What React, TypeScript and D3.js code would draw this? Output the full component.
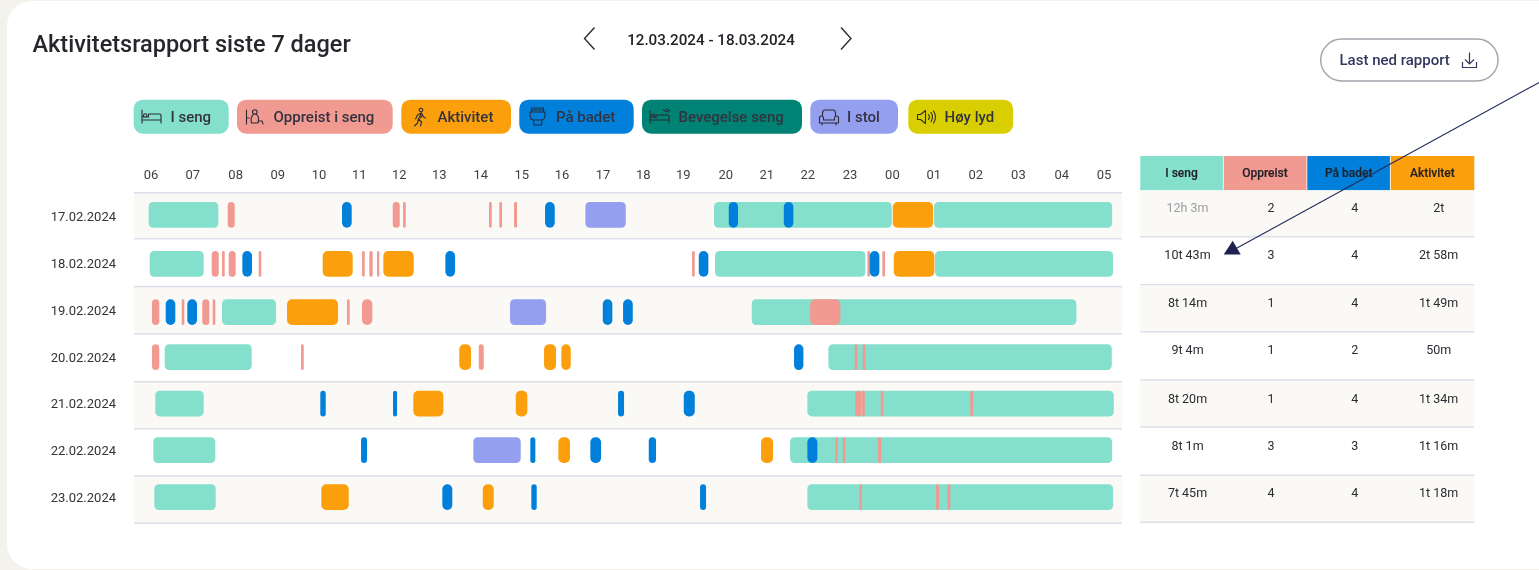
import React from "react";
import * as d3 from "d3";

// ---- data (hours since 06:00) ----
const hourLabels = ["06","07","08","09","10","11","12","13","14","15","16","17","18","19","20","21","22","23","00","01","02","03","04","05"];
const days = ["17.02.2024","18.02.2024","19.02.2024","20.02.2024","21.02.2024","22.02.2024","23.02.2024"];

type Seg = [string, number, number];
const T = "seng", P = "oppreist", O = "aktivitet", B = "bad", S = "stol";

const day17: Seg[] = [[T,-0.056,1.624],[P,1.851,2.02],[B,4.61,4.844],[P,5.834,6.003],[P,6.083,6.148],[P,8.158,8.223],[P,8.407,8.472],[P,8.762,8.834],[B,9.51,9.744],[S,10.483,11.458],[T,13.589,17.878],[B,13.944,14.168],[B,15.272,15.503],[O,17.902,18.875],[T,18.899,23.196]];
const day18: Seg[] = [[T,-0.031,1.272],[P,1.465,1.634],[P,1.714,1.779],[P,1.875,2.044],[B,2.204,2.438],[P,2.6,2.662],[O,4.144,4.868],[P,5.093,5.158],[P,5.269,5.351],[P,5.455,5.51],[O,5.607,6.341],[B,7.104,7.338],[P,13.058,13.123],[B,13.22,13.452],[T,13.613,17.241],[P,17.289,17.354],[B,17.347,17.579],[P,17.651,17.716],[O,17.927,18.906],[T,18.923,23.22]];
const day19: Seg[] = [[P,0.024,0.2],[B,0.355,0.587],[P,0.741,0.804],[B,0.876,1.11],[P,1.238,1.407],[P,1.489,1.552],[T,1.714,3.017],[O,3.283,4.514],[P,4.731,4.796],[P,5.093,5.342],[S,8.665,9.534],[B,10.903,11.134],[B,11.393,11.627],[T,14.499,22.334],[P,15.906,16.638]];
const day20: Seg[] = [[P,0.024,0.2],[T,0.331,2.431],[P,3.621,3.686],[O,7.441,7.724],[P,7.91,8.03],[O,9.486,9.775],[O,9.903,10.13],[B,15.52,15.745],[T,16.348,23.188],[P,16.985,17.048],[P,17.178,17.241]];
const day21: Seg[] = [[T,0.104,1.272],[B,4.086,4.217],[B,5.841,5.938],[O,6.331,7.055],[O,8.803,9.083],[B,11.272,11.417],[B,12.858,13.123],[T,15.841,23.237],[P,16.993,17.137],[P,17.161,17.227],[P,17.613,17.669],[P,19.775,19.84]];
const day22: Seg[] = [[T,0.056,1.552],[B,5.069,5.214],[S,7.779,8.923],[B,9.155,9.276],[O,9.831,10.113],[B,10.603,10.862],[B,12.013,12.189],[O,14.724,15.013],[T,15.424,23.196],[P,16.517,16.575],[P,16.696,16.758],[P,17.548,17.62],[B,15.841,16.082]];
const day23: Seg[] = [[T,0.08,1.562],[O,4.111,4.772],[B,7.031,7.272],[O,8.006,8.272],[B,9.179,9.309],[B,13.251,13.396],[T,15.841,23.22],[P,17.096,17.154],[P,18.947,19.02],[P,19.22,19.292]];
const schedule = [day17, day18, day19, day20, day21, day22, day23];

const tableHeaders = ["I seng","Oppreist","På badet","Aktivitet"];
const sengTotals = ["12h 3m","10t 43m","8t 14m","9t 4m","8t 20m","8t 1m","7t 45m"];
const oppreistTotals = ["2","3","1","1","1","3","4"];
const badetTotals = ["4","4","4","2","4","3","4"];
const aktivitetTotals = ["2t","2t 58m","1t 49m","50m","1t 34m","1t 16m","1t 18m"];

const legendLabels = ["I seng","Oppreist i seng","Aktivitet","På badet","Bevegelse seng","I stol","Høy lyd"];

// ---- styling & layout ----
const colors: Record<string,string> = { seng:"#84dfcc", oppreist:"#f19a91", aktivitet:"#fb9f0d", bad:"#0080db", bevegelse:"#008375", stol:"#949fef", lyd:"#d9cf00" };
const legendKeys = ["seng","oppreist","aktivitet","bad","bevegelse","stol","lyd"];
const legendBox: [number,number,number,number][] = [[133.7,228.7,170.5,151.5],[237,392.7,273.5,255],[401.3,511,437.5,419.5],[519.3,633.7,556,537.5],[642,802,678.5,660],[810.3,898,847,829],[908.3,1013,944.5,926.5]];

const FONT = "Roboto, sans-serif";
const x = d3.scaleLinear().domain([0, 23]).range([151, 1104]);
const tickNudge = [0,.3,1.8,2.4,2.3,1.1,-.3,-1.7,-1.7,-2.2,-3.3,-3.7,-4.9,-6.3,-5.3,-5.8,-6.2,-5.3,-4.4,-4.5,-3.9,-2.7,-.8,.1];
const rowLines = [192.8,238.7,286.5,333.7,381.7,428.7,476,523.3];
const barTops = [202,251,299.3,344.3,390.7,437.3,484.3];
const dateCenters = [216.7,263.7,310.7,357.7,403.7,450.7,497.3];
const BAR_H = 25.7;
const tableLines = [190.3,236.7,284.6,331.7,380,427,475.3,522.3];
const tableText = [207,254,302,349.3,398.3,445,492.7];
const tableCols = [1140.3,1223.7,1307.3,1390.7,1474.3];
const cellCenters = [1187.5,1271,1354.7,1438.7];
const headCenters = [1181.5,1265,1348.7,1432.3];
const rule = "#dcdfea";
const band = "#faf9f6";

function Icon({ kind, cx }: { kind: number; cx: number }) {
  const c = "#2b2b36";
  const common = { fill: "none", stroke: c, strokeWidth: 1.1, strokeLinecap: "round" as const, strokeLinejoin: "round" as const };
  const paths = [
    "M-9.5 -7V6 M-9.5 3H9.5V6 M9.5 3V-2Q9.5 -3 8 -3H-3V0 M-9.5 0H-3 M-8 -1.5a1.7 1.7 0 1 0 3.4 0a1.7 1.7 0 1 0 -3.4 0",
    "M-8.5 -7V7 M-6 1H-8.5 M-2.5 -5a2.3 2.3 0 1 0 4.6 0a2.3 2.3 0 1 0 -4.6 0 M-3.5 6C-5 0 -2 -3 0 -3C2.5 -3 4.5 0 3 6Z M3 4H7L8 7",
    "M0 -8a1.8 1.8 0 1 0 3 2a1.8 1.8 0 1 0 -3 -2 M-2 -2L2 -4L4 0L6 1 M-2 -2L-4 2 M2 -4L-1 2L2 5L1 9 M-1 2L-2 6L-5 9 M3 -2L1 1",
    "M-6 -9H6V-5H-6Z M-7.5 -5H7.5V-2Q7.5 3 3.5 3H-3.5Q-7.5 3 -7.5 -2Z M-4 3L-3.5 8H4L4.5 3 M-5 -7H5",
    "M-10 -6V6 M-10 3H9V6 M9 3V-1Q9 -2 7.5 -2H-4V1 M-10 0H-4 M-8.5 -1.5a1.5 1.5 0 1 0 3 0a1.5 1.5 0 1 0 -3 0 M3 -7L8 -5 M6 -8L10 -6",
    "M-6.5 -1V-4Q-6.5 -7 -3.5 -7H3.5Q6.5 -7 6.5 -4V-1 M-9.5 1a2 2 0 0 1 4 0V3H5.5V1a2 2 0 0 1 4 0V6H-9.5Z M-7 6V8 M7 6V8",
    "M-9 -2.5H-6L-1 -6.5V6.5L-6 2.5H-9Z M2 -2.5Q4 0 2 2.5 M4.5 -4.5Q7.5 0 4.5 4.5 M7 -6Q11 0 7 6",
  ];
  return <path d={paths[kind]} transform={`translate(${cx},117)`} {...common} />;
}

export default function App() {
  const rowsData = [sengTotals, oppreistTotals, badetTotals, aktivitetTotals];
  return (
    <svg width={1539} height={570} style={{ position: "fixed", left: 0, top: 0, display: "block", filter: "blur(0.35px)" }} fontFamily={FONT}>
      <rect width={1539} height={570} fill="#f4f2ec" />
      <rect x={7} y={1} width={1560} height={568} rx={25} fill="#ffffff" />

      <text x={32.5} y={52} fontSize={23.5} fontWeight={500} fill="#26262c">Aktivitetsrapport siste 7 dager</text>
      <path d="M594.5 27.5L584.5 38.5L594.5 49.5" fill="none" stroke="#2b2b33" strokeWidth={1.4} />
      <path d="M841 27.5L851 38.5L841 49.5" fill="none" stroke="#2b2b33" strokeWidth={1.4} />
      <text x={711} y={44.5} textAnchor="middle" fontSize={15.2} fontWeight={500} fill="#222228">12.03.2024 - 18.03.2024</text>

      <rect x={1320.7} y={39} width={177.3} height={42} rx={21} fill="#fff" stroke="#a2a4ac" strokeWidth={1.4} />
      <text x={1339.5} y={65.3} fontSize={15} fontWeight={500} fill="#33395e">Last ned rapport</text>
      <path d="M1469.5 52.5V63.5M1465 59.5L1469.5 64L1474 59.5M1462.5 62V67.5H1476.5V62" fill="none" stroke="#33395e" strokeWidth={1.2} />

      {legendLabels.map((label, i) => {
        const [x0, x1, tx, ix] = legendBox[i];
        return (
          <g key={label}>
            <rect x={x0} y={99.7} width={x1 - x0} height={34} rx={9} fill={colors[legendKeys[i]]} />
            <Icon kind={i} cx={ix} />
            <text x={tx} y={122.3} fontSize={15} fontWeight={500} fill="#33333f">{label}</text>
          </g>
        );
      })}

      {hourLabels.map((h, i) => (
        <text key={i} x={x(i) + tickNudge[i]} y={179} textAnchor="middle" fontSize={13} fill="#3f3f46">{h}</text>
      ))}

      {days.map((d, i) => (
        <g key={d}>
          {i % 2 === 0 && <rect x={134} y={rowLines[i]} width={988} height={rowLines[i + 1] - rowLines[i]} fill={band} />}
        </g>
      ))}
      {rowLines.map((y, i) => <line key={i} x1={134} x2={1122} y1={y} y2={y} stroke={rule} strokeWidth={1.6} />)}

      {days.map((d, i) => (
        <text key={d} x={116} y={dateCenters[i] + 4.5} textAnchor="end" fontSize={13} fill="#33333a">{d}</text>
      ))}

      {schedule.map((segs, r) =>
        [...segs].sort((a, b) => Number(b[0] === T) - Number(a[0] === T)).map(([k, s, e], i) => {
          const x0 = x(s), w = x(e) - x0;
          return <rect key={`${r}-${i}`} x={x0} y={barTops[r]} width={w} height={BAR_H} rx={Math.min(k === T || k === S ? 4.5 : 5, w / 2)} fill={colors[k]} />;
        })
      )}

      {/* table */}
      {tableHeaders.map((h, i) => {
        const key = ["seng", "oppreist", "bad", "aktivitet"][i];
        return (
          <g key={h}>
            <rect x={tableCols[i]} y={156} width={tableCols[i + 1] - tableCols[i] - (i < 3 ? 0.8 : 0)} height={34.3} fill={colors[key]} />
            <text x={headCenters[i]} y={176.5} textAnchor="middle" fontSize={12} fontWeight={500} fill="#1f1f26" stroke="#1f1f26" strokeWidth={0.15}>{h}</text>
          </g>
        );
      })}
      {days.map((d, r) => (
        <g key={d}>
          {r % 2 === 0 && <rect x={tableCols[0]} y={tableLines[r]} width={334} height={tableLines[r + 1] - tableLines[r]} fill={band} />}
          {rowsData.map((col, c) => (
            <text key={c} x={cellCenters[c]} y={tableText[r] + 4.5} textAnchor="middle" fontSize={12.5} fill={r === 0 && c === 0 ? "#9d9da3" : "#2b2b32"}>{col[r]}</text>
          ))}
        </g>
      ))}
      {tableLines.slice(1).map((y, i) => <line key={i} x1={tableCols[0]} x2={1474.3} y1={y} y2={y} stroke={rule} strokeWidth={1.4} />)}

      {/* annotation arrow */}
      <line x1={1540} x2={1236} y1={82} y2={248.5} stroke="#1f2a55" strokeWidth={1.1} />
      <path d="M1223.7 254.5H1240.7L1232.7 240.7Z" fill="#1c2350" />
    </svg>
  );
}
